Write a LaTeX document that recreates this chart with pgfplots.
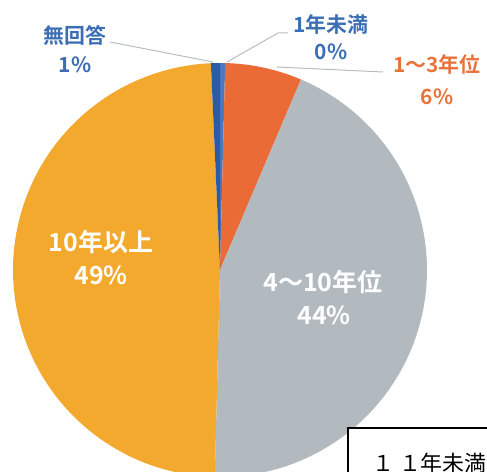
\documentclass[border=0pt]{standalone}
\usepackage{pgfplots}
\pgfplotsset{compat=1.18}
\usepackage{fontspec}
\setmainfont{Noto Sans CJK JP}[BoldFont={Noto Sans CJK JP Bold}]
\definecolor{cA}{HTML}{4A78C0}
\definecolor{cB}{HTML}{EA6B35}
\definecolor{cC}{HTML}{B2BABF}
\definecolor{cD}{HTML}{F3A92E}
\definecolor{cE}{HTML}{2B5BA6}
\definecolor{lblue}{HTML}{3C6EB4}
\definecolor{lorange}{HTML}{E8743B}
\definecolor{leader}{HTML}{B8BCC0}
\begin{document}
\begin{tikzpicture}
% shares in percent: 1年未満, 1～3年位, 4～10年位, 10年以上, 無回答
\def\vA{0.4}\def\vB{6.0}\def\vC{44.0}\def\vD{48.9}\def\vE{0.7}
\pgfmathsetmacro\aA{90}
\pgfmathsetmacro\aB{\aA-3.6*\vA}
\pgfmathsetmacro\aC{\aB-3.6*\vB}
\pgfmathsetmacro\aD{\aC-3.6*\vC}
\pgfmathsetmacro\aE{\aD-3.6*\vD}
\pgfmathsetmacro\aF{\aE-3.6*\vE}
\useasboundingbox (0,0) rectangle (487bp,472bp);
\begin{axis}[at={(0,0)},anchor=south west,width=487bp,height=472bp,scale only axis,hide axis,
  xmin=0,xmax=487,ymin=0,ymax=472,clip=true]
\addplot[fill=cA,draw=none,domain=\aB:\aA,samples=5] ({220+207*cos(x)},{202+207*sin(x)}) -- (axis cs:220,202) -- cycle;
\addplot[fill=cB,draw=none,domain=\aC:\aB,samples=30] ({220+207*cos(x)},{202+207*sin(x)}) -- (axis cs:220,202) -- cycle;
\addplot[fill=cC,draw=none,domain=\aD:\aC,samples=120] ({220+207*cos(x)},{202+207*sin(x)}) -- (axis cs:220,202) -- cycle;
\addplot[fill=cD,draw=none,domain=\aE:\aD,samples=120] ({220+207*cos(x)},{202+207*sin(x)}) -- (axis cs:220,202) -- cycle;
\addplot[fill=cE,draw=none,domain=\aF:\aE,samples=5] ({220+207*cos(x)},{202+207*sin(x)}) -- (axis cs:220,202) -- cycle;
% leader lines
\draw[leader,line width=1pt] (axis cs:110,430) -- (axis cs:213,410);
\draw[leader,line width=1pt] (axis cs:288,439) -- (axis cs:278,439) -- (axis cs:227,410);
\draw[leader,line width=1pt] (axis cs:383,400) -- (axis cs:277,405);
% labels
\tikzset{lbl/.style={font=\fontsize{21}{24}\selectfont\bfseries,inner sep=0pt}}
\node[lbl,lblue] at (axis cs:75,437) {無回答};
\node[lbl,lblue] at (axis cs:75,407) {1\%};
\node[lbl,lblue] at (axis cs:331,447) {1年未満};
\node[lbl,lblue] at (axis cs:331,420) {0\%};
\node[lbl,lorange] at (axis cs:437,407) {1～3年位};
\node[lbl,lorange] at (axis cs:437,375) {6\%};
\tikzset{ilbl/.style={font=\fontsize{25}{28}\selectfont\bfseries,inner sep=0pt,white}}
\node[ilbl] at (axis cs:101,230) {10年以上};
\node[ilbl] at (axis cs:101,197) {49\%};
\node[ilbl] at (axis cs:323,190) {4～10年位};
\node[ilbl] at (axis cs:324,157) {44\%};
% cut-off table box
\draw[black,line width=1.3pt,fill=white] (axis cs:348,-20) rectangle (axis cs:520,44);
\node[anchor=west,inner sep=0pt,font=\fontsize{22}{25}\selectfont] at (axis cs:372,9) {１ １年未満};
\end{axis}
\end{tikzpicture}
\end{document}
